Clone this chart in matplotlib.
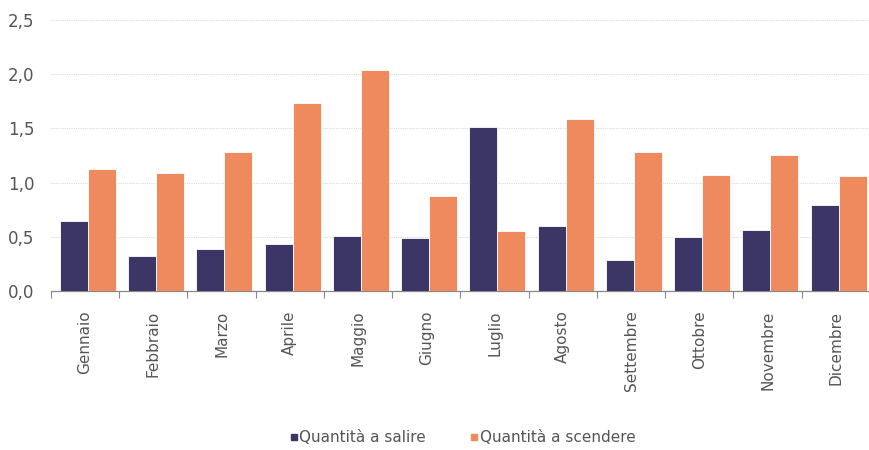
import matplotlib
matplotlib.use("Agg")
import matplotlib.pyplot as plt
from matplotlib.lines import Line2D
from matplotlib.ticker import FuncFormatter
import numpy as np

months = ["Gennaio", "Febbraio", "Marzo", "Aprile", "Maggio", "Giugno",
          "Luglio", "Agosto", "Settembre", "Ottobre", "Novembre", "Dicembre"]
salire = [0.65, 0.32, 0.39, 0.43, 0.51, 0.49, 1.51, 0.60, 0.29, 0.50, 0.56, 0.79]
scendere = [1.13, 1.09, 1.285, 1.73, 2.04, 0.88, 0.55, 1.59, 1.28, 1.07, 1.255, 1.06]
labels = ["Quantità a salire", "Quantità a scendere"]

NAVY = "#3b3666"
ORANGE = "#ef8a5e"
TXT = "#555555"

plt.rcParams["font.family"] = ["Liberation Sans Narrow", "DejaVu Sans"]

fig = plt.figure(figsize=(8.7, 4.5), dpi=100)
ax = fig.add_axes([51 / 870, 1 - 291 / 450, 1 - 51 / 870, (291 - 20) / 450])

x = np.arange(len(months))
w = 0.41
off = 0.04
ax.bar(x + off - w / 2, salire, width=w, color=NAVY, edgecolor="white", linewidth=0.6, zorder=3)
ax.bar(x + off + w / 2, scendere, width=w, color=ORANGE, edgecolor="white", linewidth=0.6, zorder=3)

ax.set_xlim(-0.5, 11.335)
ax.set_ylim(0, 2.5)
ax.set_yticks([0, 0.5, 1.0, 1.5, 2.0, 2.5])
ax.yaxis.set_major_formatter(FuncFormatter(lambda v, p: f"{v:.1f}".replace(".", ",")))
ax.grid(axis="y", color="#d8d8d8", linestyle=(0, (1, 1)), linewidth=0.8, zorder=0)

ax.set_xticks(x)
ax.set_xticklabels(months, rotation=90, fontsize=11, color=TXT)
ax.set_xticks(np.arange(-0.5, 12, 1), minor=True)
ax.tick_params(axis="x", which="major", length=0, pad=14)
ax.tick_params(axis="x", which="minor", length=5, color="#888888", width=0.8, direction="out")
ax.tick_params(axis="y", length=0, pad=12, labelsize=12, labelcolor=TXT)

for s in ["top", "right", "left"]:
    ax.spines[s].set_visible(False)
ax.spines["bottom"].set_color("#888888")
ax.spines["bottom"].set_linewidth(0.9)

handles = [Line2D([], [], marker="s", linestyle="", color=NAVY, markersize=5),
           Line2D([], [], marker="s", linestyle="", color=ORANGE, markersize=5)]
fig.legend(handles, labels, loc="center", bbox_to_anchor=(0.531, 1 - 438 / 450), ncol=2,
           frameon=False, fontsize=11, handletextpad=0.0, columnspacing=2.8,
           handlelength=0.7, labelcolor=TXT)

fig.savefig("out.png", dpi=100)
